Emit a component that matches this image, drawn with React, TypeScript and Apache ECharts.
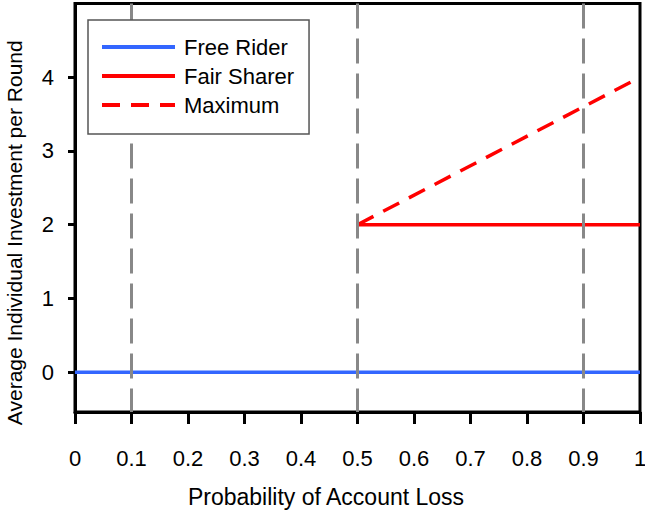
import React, { useEffect, useRef } from "react";
import * as echarts from "echarts";

// Axis ticks
const xTicks = [0, 0.1, 0.2, 0.3, 0.4, 0.5, 0.6, 0.7, 0.8, 0.9, 1];
const yTicks = [0, 1, 2, 3, 4];
const yMin = -0.54;
const yMax = 5;

// Strategy curves (x = probability of account loss, y = investment)
const freeRiderX = [0, 1];
const freeRiderY = [0, 0];
const fairSharerX = [0.5, 1];
const fairSharerY = [2, 2];
const maximumX = [0.5, 1];
const maximumY = [2, 4];

// Probabilities marked with vertical reference lines
const thresholds = [0.1, 0.5, 0.9];

const FONT = "'Liberation Sans', Arial, Helvetica, sans-serif";

const zip = (xs: number[], ys: number[]) => xs.map((x, i) => [x, ys[i]]);

export default function App() {
  const ref = useRef<HTMLDivElement>(null);

  useEffect(() => {
    if (!ref.current) return;
    const chart = echarts.init(ref.current, undefined, { renderer: "svg" });
    chart.setOption({
      animation: false,
      backgroundColor: "#fff",
      textStyle: { fontFamily: FONT },
      grid: {
        left: 75,
        right: 5,
        top: 3.5,
        bottom: 101,
        containLabel: false,
        outerBoundsMode: "none",
        show: true,
        borderColor: "#000",
        borderWidth: 3,
        backgroundColor: "transparent",
      },
      legend: {
        orient: "vertical",
        left: 88,
        top: 20,
        data: ["Free Rider", "Fair Sharer", "Maximum"],
        itemWidth: 73,
        itemHeight: 21,
        itemGap: 7,
        padding: [16, 15, 18, 12],
        backgroundColor: "#fff",
        borderColor: "#555",
        borderWidth: 1.5,
        borderRadius: 0,
        itemStyle: { opacity: 0 },
        lineStyle: { width: 4, opacity: 1 },
        textStyle: {
          fontFamily: FONT,
          fontSize: 22,
          color: "#000",
          padding: [0, 0, 0, 4],
        },
        z: 10,
      },
      xAxis: {
        type: "value",
        min: xTicks[0],
        max: xTicks[xTicks.length - 1],
        interval: 0.1,
        name: "Probability of Account Loss",
        nameLocation: "middle",
        nameGap: 73,
        nameTextStyle: {
          fontFamily: FONT,
          fontSize: 23,
          color: "#000",
          padding: [0, 63, 0, 0],
        },
        axisLine: { show: true, onZero: false, lineStyle: { color: "#000", width: 3 } },
        axisTick: { show: true, length: 12, lineStyle: { color: "#000", width: 3 } },
        axisLabel: {
          fontFamily: FONT,
          fontSize: 22,
          color: "#000",
          margin: 35,
          showMinLabel: true,
          showMaxLabel: true,
          formatter: (v: number) => String(parseFloat(v.toFixed(1))),
        },
        splitLine: { show: false },
      },
      yAxis: {
        type: "value",
        min: yMin,
        max: yMax,
        name: "Average Individual Investment per Round",
        nameLocation: "middle",
        nameGap: 50,
        nameTextStyle: {
          fontFamily: FONT,
          fontSize: 21,
          color: "#000",
          padding: [0, 50, 0, 0],
        },
        axisLine: { show: true, onZero: false, lineStyle: { color: "#000", width: 3 } },
        axisTick: {
          show: true,
          length: 7,
          customValues: yTicks,
          lineStyle: { color: "#000", width: 3 },
        },
        axisLabel: {
          fontFamily: FONT,
          fontSize: 22,
          color: "#000",
          margin: 21,
          customValues: yTicks,
        },
        splitLine: { show: false },
      },
      series: [
        {
          type: "line",
          data: [],
          z: 1,
          silent: true,
          markLine: {
            silent: true,
            symbol: ["none", "none"],
            label: { show: false },
            lineStyle: { color: "#888", width: 3, type: [25, 10] },
            data: thresholds.map((x) => [
              { coord: [x, yMax] },
              { coord: [x, yMin] },
            ]),
          },
        },
        {
          name: "Free Rider",
          type: "line",
          z: 3,
          symbol: "none",
          data: zip(freeRiderX, freeRiderY),
          lineStyle: { color: "#3366FF", width: 3.5 },
          itemStyle: { color: "#3366FF" },
        },
        {
          name: "Fair Sharer",
          type: "line",
          z: 3,
          symbol: "none",
          data: zip(fairSharerX, fairSharerY),
          lineStyle: { color: "#FF0000", width: 3.5 },
          itemStyle: { color: "#FF0000" },
        },
        {
          name: "Maximum",
          type: "line",
          z: 3,
          symbol: "none",
          data: zip(maximumX, maximumY),
          lineStyle: { color: "#FF0000", width: 3.5, type: [18, 11] },
          itemStyle: { color: "#FF0000" },
        },
      ],
    });
    return () => chart.dispose();
  }, []);

  return <div ref={ref} style={{ width: 645, height: 513, position: "absolute", left: 0, top: 0 }} />;
}
